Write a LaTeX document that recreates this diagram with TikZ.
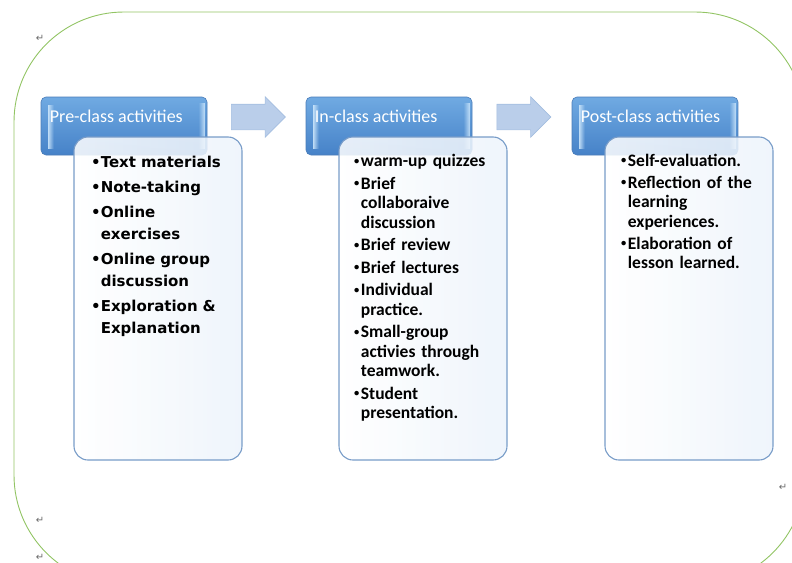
\documentclass[tikz,border=0pt]{standalone}
\usepackage{fontspec}
\setmainfont{Carlito}
\newfontfamily\widefont{DejaVu Sans}
\newfontfamily\markfont{DejaVu Sans}
\usetikzlibrary{shapes.arrows,fadings}

\definecolor{framegreen}{RGB}{146,196,100}
\definecolor{headtop}{RGB}{112,170,226}
\definecolor{headbot}{RGB}{70,130,200}
\definecolor{headedge}{RGB}{74,124,184}
\definecolor{bevel}{RGB}{210,234,253}
\definecolor{listedge}{RGB}{120,156,200}
\definecolor{listglow}{RGB}{236,243,251}
\definecolor{arrowfill}{RGB}{186,206,234}
\definecolor{arrowedge}{RGB}{164,190,224}
\definecolor{markgray}{RGB}{105,105,105}

% one bullet line, wrapped lines hang under the text
\newcommand\smallbullet{\raisebox{0.14em}{\scalebox{0.6}{\textbullet}}}
\newcommand\bulletgap{1.5pt}
\newcommand\actitem[1]{\par\noindent\setbox0\hbox{\smallbullet\kern\bulletgap}\hangindent=\wd0\hangafter=1\box0#1}

\tikzset{
  headbox/.style={rectangle,rounded corners=5pt,minimum width=166pt,minimum height=58pt,
    inner sep=0pt,top color=headtop,bottom color=headbot,draw=headedge,line width=0.6pt},
  bevelstrip/.style={fill=bevel,opacity=0.9},
  headtext/.style={anchor=west,inner sep=0pt,text=white,font=\fontsize{18}{20}\selectfont},
  listbox/.style={rectangle,rounded corners=14pt,minimum width=168pt,minimum height=323pt,
    inner sep=0pt,left color=white,right color=listglow,fill opacity=0.86,
    draw=listedge,line width=1.1pt},
  listtext/.style={anchor=north west,inner sep=0pt,text width=150pt,align=left},
  steparrow/.style={single arrow,minimum height=54pt,inner xsep=0pt,inner ysep=12.5pt,
    single arrow head extend=7.5pt,fill=arrowfill,draw=arrowedge,line width=0.6pt},
  parmark/.style={inner sep=0pt,text=markgray,font=\markfont\fontsize{10}{10}\selectfont}
}

\begin{document}
\begin{tikzpicture}[x=1pt,y=-1pt]
\useasboundingbox (0,0) rectangle (792,562);
\begin{scope}
\clip (0,0) rectangle (792,562);
\draw[framegreen,line width=0.9pt,rounded corners=110pt] (14,12) rectangle (805,585);
\end{scope}

% headers
\path (124,126) node[headbox] (prehead) {};
\path (389,126) node[headbox] (inhead) {};
\path (655,126) node[headbox] (posthead) {};
\foreach \h in {prehead,inhead,posthead} {
  \fill[bevelstrip,path fading=east] ([shift={(7,8)}]\h.north west) rectangle ([shift={(13,-6)}]\h.south west);
  \fill[bevelstrip,path fading=west] ([shift={(-9,6)}]\h.north east) rectangle ([shift={(-2,-6)}]\h.south east);
}
\path (prehead.west) ++(9,-10) node[headtext] (pretitle) {Pre-class activities};
\path (inhead.west) ++(9,-10) node[headtext] (intitle) {In-class activities};
\path (posthead.west) ++(9,-10) node[headtext] (posttitle) {Post-class activities};

% arrows between the stages
\path (252,117) node[steparrow] (arr1) {};
\path (517.5,117) node[steparrow] (arr2) {};

% lists
\path (158,298.5) node[listbox] (prelist) {};
\path (423,298.5) node[listbox] (inlist) {};
\path (689,298.5) node[listbox] (postlist) {};

\path (91,142) node[listtext,font=\widefont\bfseries\fontsize{15}{22}\selectfont\setlength\parskip{3pt}\def\smallbullet{\textbullet}\def\bulletgap{0pt}] (pretext) {%
\actitem{Text materials}
\actitem{Note-taking}
\actitem{Online\newline exercises}
\actitem{Online group\newline discussion}
\actitem{Exploration \&\newline Explanation}\par};

\path (354,144) node[listtext,font=\bfseries\fontsize{17.5}{19.5}\selectfont\setlength\parskip{3pt}] (intext) {%
\actitem{warm-up quizzes}
\actitem{Brief\newline collaboraive\newline discussion}
\actitem{Brief review}
\actitem{Brief lectures}
\actitem{Individual\newline practice.}
\actitem{Small-group\newline activies through\newline teamwork.}
\actitem{Student\newline presentation.}\par};

\path (621,144) node[listtext,font=\bfseries\fontsize{17.5}{19.5}\selectfont\setlength\parskip{2.5pt}] (posttext) {%
\actitem{Self-evaluation.}
\actitem{Reflection of the\newline learning\newline experiences.}
\actitem{Elaboration of\newline lesson learned.}\par};

% paragraph marks
\path (40,38) node[parmark] (pm1) {↵};
\path (783,487) node[parmark] (pm2) {↵};
\path (40,520) node[parmark] (pm3) {↵};
\path (40,557) node[parmark] (pm4) {↵};
\end{tikzpicture}
\end{document}
